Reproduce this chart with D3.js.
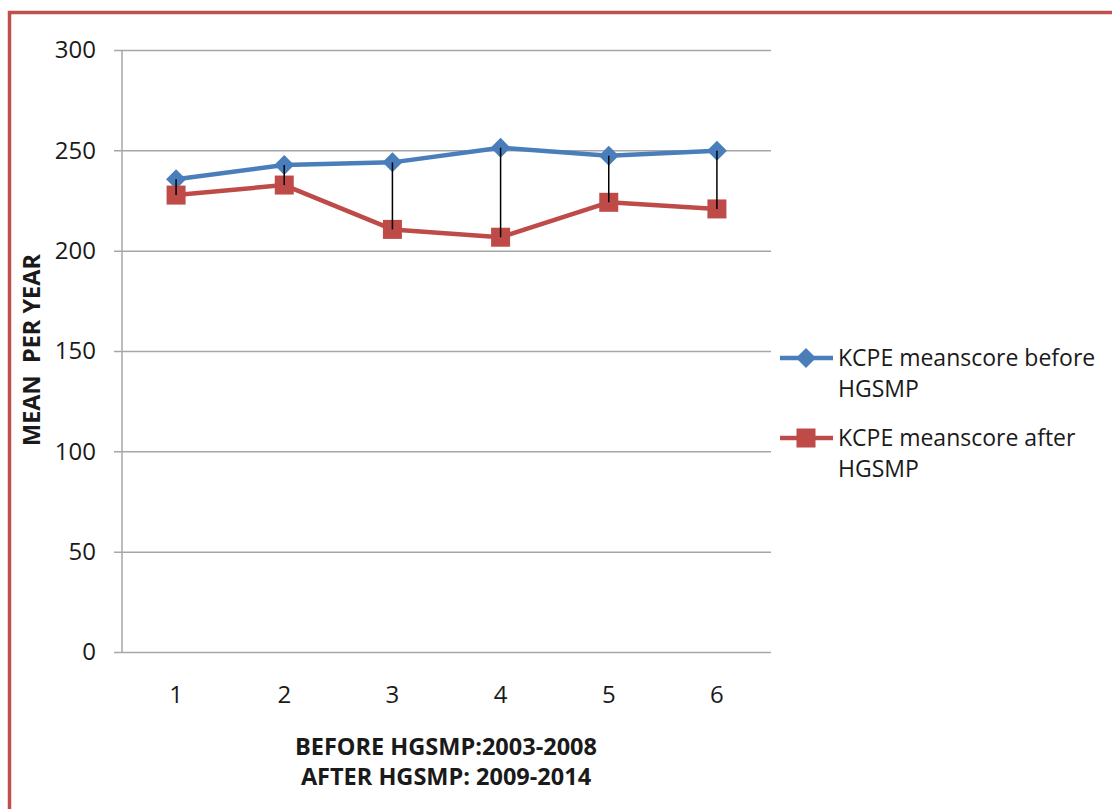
<!DOCTYPE html>
<html>
<head>
<meta charset="utf-8">
<script src="https://cdn.jsdelivr.net/npm/d3@7"></script>
<style>
  html, body { margin: 0; padding: 0; background: #fff; }
  svg { display: block; }
  text { font-family: "Open Sans", sans-serif; fill: #1a1a1a; }
</style>
</head>
<body>
<svg id="chart" width="1112" height="809"></svg>
<script>
// Category positions along the x axis (school years, numbered)
const categories = [1, 2, 3, 4, 5, 6];
// KCPE mean scores per year
const beforeScores = [235.6, 242.7, 244.0, 251.3, 247.3, 249.8];
const afterScores  = [227.7, 232.7, 210.6, 206.7, 224.1, 220.8];
const yTicks = [0, 50, 100, 150, 200, 250, 300];
const seriesNames = ["KCPE meanscore before HGSMP", "KCPE meanscore after HGSMP"];
const xTitleLines = ["BEFORE HGSMP:2003-2008", "AFTER HGSMP: 2009-2014"];
const yTitle = "MEAN  PER YEAR";

const BLUE = "#4A7EBB", RED = "#BE4B48", GRID = "#A6A6A6";

const svg = d3.select("#chart");

// outer frame
svg.append("rect")
  .attr("x", 9.5).attr("y", 12.5)
  .attr("width", 1200).attr("height", 1000)
  .attr("fill", "none").attr("stroke", "#C0504D").attr("stroke-width", 3.5);

const plot = { left: 122, right: 771, top: 50, bottom: 652 };

const x = d3.scaleBand().domain(categories).range([plot.left, plot.right]);
const y = d3.scaleLinear().domain([0, 300]).range([plot.bottom, plot.top]);
const cx = d => x(d) + x.bandwidth() / 2;

// horizontal gridlines with small ticks on the left
const yAxis = d3.axisLeft(y).tickValues(yTicks).tickSize(-(plot.right - plot.left)).tickPadding(26);
const gy = svg.append("g").attr("transform", `translate(${plot.left},0)`).call(yAxis);
gy.select(".domain").remove();
gy.selectAll(".tick line").attr("stroke", GRID).attr("stroke-width", 1.5).attr("x1", -8);
gy.selectAll(".tick text")
  .attr("font-size", 24).attr("font-family", "Open Sans, sans-serif").attr("fill", "#222");

// vertical axis line
svg.append("line")
  .attr("x1", plot.left).attr("x2", plot.left)
  .attr("y1", plot.top).attr("y2", plot.bottom)
  .attr("stroke", GRID).attr("stroke-width", 1.5);

// category labels
const xAxis = d3.axisBottom(x).tickSize(0).tickPadding(34);
const gx = svg.append("g").attr("transform", `translate(0,${plot.bottom})`).call(xAxis);
gx.select(".domain").remove();
gx.selectAll(".tick text")
  .attr("font-size", 24).attr("font-family", "Open Sans, sans-serif").attr("fill", "#222");

// series lines
const lineGen = d3.line().x((d, i) => cx(categories[i])).y(d => y(d));
svg.append("path").datum(beforeScores)
  .attr("d", lineGen).attr("fill", "none").attr("stroke", BLUE).attr("stroke-width", 4.5)
  .attr("stroke-linejoin", "round");
svg.append("path").datum(afterScores)
  .attr("d", lineGen).attr("fill", "none").attr("stroke", RED).attr("stroke-width", 4.5)
  .attr("stroke-linejoin", "round");

// markers
const diamond = (s) => `M0,${-s}L${s},0L0,${s}L${-s},0Z`;
svg.append("g").selectAll("path").data(beforeScores).join("path")
  .attr("transform", (d, i) => `translate(${cx(categories[i])},${y(d)})`)
  .attr("d", diamond(10)).attr("fill", BLUE);
const sq = 19;
svg.append("g").selectAll("rect").data(afterScores).join("rect")
  .attr("x", (d, i) => cx(categories[i]) - sq / 2)
  .attr("y", d => y(d) - sq / 2)
  .attr("width", sq).attr("height", sq).attr("fill", RED);

// high-low connectors between the two series
svg.append("g").selectAll("line").data(categories).join("line")
  .attr("x1", d => cx(d)).attr("x2", d => cx(d))
  .attr("y1", (d, i) => y(beforeScores[i]))
  .attr("y2", (d, i) => y(afterScores[i]))
  .attr("stroke", "#000").attr("stroke-width", 1.5);

// axis titles
svg.append("g").selectAll("text").data(xTitleLines).join("text")
  .attr("x", 446).attr("y", (d, i) => 755 + i * 30)
  .attr("text-anchor", "middle").attr("font-size", 23.5).attr("font-weight", "bold")
  .attr("fill", "#000").text(d => d);

svg.append("text")
  .attr("transform", "translate(40,350) rotate(-90)")
  .attr("text-anchor", "middle").attr("font-size", 23.5).attr("font-weight", "bold")
  .attr("fill", "#000").style("white-space", "pre").text(yTitle);

// legend
const legend = svg.append("g");
const items = [
  { name: seriesNames[0], color: BLUE, marker: "diamond", y: 358, lines: ["KCPE meanscore before", "HGSMP"] },
  { name: seriesNames[1], color: RED, marker: "square", y: 438, lines: ["KCPE meanscore after", "HGSMP"] }
];
items.forEach(it => {
  legend.append("line").attr("x1", 780).attr("x2", 833).attr("y1", it.y).attr("y2", it.y)
    .attr("stroke", it.color).attr("stroke-width", 4.5);
  if (it.marker === "diamond") {
    legend.append("path").attr("transform", `translate(806,${it.y})`).attr("d", diamond(10)).attr("fill", it.color);
  } else {
    legend.append("rect").attr("x", 806 - sq / 2).attr("y", it.y - sq / 2)
      .attr("width", sq).attr("height", sq).attr("fill", it.color);
  }
  legend.selectAll(null).data(it.lines).enter().append("text")
    .attr("x", 838).attr("y", (d, i) => it.y + 8 + i * 31)
    .attr("font-size", 23).attr("fill", "#222").text(d => d);
});
</script>
</body>
</html>
